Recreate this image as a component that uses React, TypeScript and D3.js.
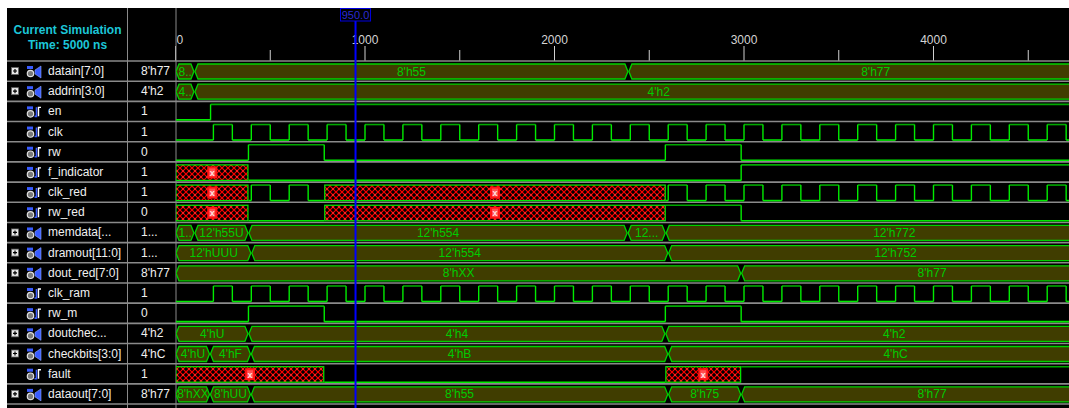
import React from 'react';
import * as d3 from 'd3';

// ---- data (times in ns) ----
const SIM_END = 5000;
const CURSOR_NS = 950;
const MAJOR_TICKS = [0, 1000, 2000, 3000, 4000];
const MINOR_TICKS = [500, 1500, 2500, 3500, 4500];

// rising edges of clk / clk_ram, each high for CLK_HIGH ns
const CLK_RISES = [200, 400, 600, 800, 1000, 1200, 1400, 1600, 1800, 2000, 2200, 2400,
  2600, 2800, 3000, 3200, 3400, 3600, 3800, 4000, 4200, 4400, 4600, 4800];
const CLK_HIGH = 100;

type Change = [number, string];
type BusSeg = [number, string];

const EN: Change[] = [[0, '0'], [185, '1']];
const RW: Change[] = [[0, '0'], [385, '1'], [785, '0'], [2585, '1'], [2985, '0']];
const F_INDICATOR: Change[] = [[0, 'X'], [385, '0'], [2985, '1']];
const CLK_RED_UNKNOWN = [[0, 385], [785, 2587]];
const RW_RED: Change[] = [[0, 'X'], [385, '0'], [785, 'X'], [2587, '1'], [2985, '0']];
const RW_M: Change[] = [[0, '0'], [385, '1'], [785, '0'], [2585, '1'], [2985, '0']];
const FAULT: Change[] = [[0, 'X'], [785, '0'], [2585, 'X'], [2985, '1']];

const DATAIN: BusSeg[] = [[0, '8..'], [100, "8'h55"], [2390, "8'h77"]];
const ADDRIN: BusSeg[] = [[0, '4..'], [100, "4'h2"]];
const MEMDATA: BusSeg[] = [[0, '1..'], [100, "12'h55U"], [385, "12'h554"], [2386, '12...'], [2587, "12'h772"]];
const DRAMOUT: BusSeg[] = [[0, "12'hUUU"], [400, "12'h554"], [2600, "12'h752"]];
const DOUT_RED: BusSeg[] = [[0, "8'hXX"], [2985, "8'h77"]];
const DOUTCHECK: BusSeg[] = [[0, "4'hU"], [385, "4'h4"], [2585, "4'h2"]];
const CHECKBITS: BusSeg[] = [[0, "4'hU"], [182, "4'hF"], [398, "4'hB"], [2600, "4'hC"]];
const DATAOUT: BusSeg[] = [[0, "8'hXX"], [182, "8'hUU"], [398, "8'h55"], [2600, "8'h75"], [2985, "8'h77"]];

const NAMES = ['datain[7:0]', 'addrin[3:0]', 'en', 'clk', 'rw', 'f_indicator', 'clk_red', 'rw_red',
  'memdata[...', 'dramout[11:0]', 'dout_red[7:0]', 'clk_ram', 'rw_m', 'doutchec...', 'checkbits[3:0]',
  'fault', 'dataout[7:0]'];
const END_VALUES = ["8'h77", "4'h2", '1', '1', '0', '1', '1', '0', '1...', '1...', "8'h77", '1', '0',
  "4'h2", "4'hC", '1', "8'h77"];

// ---- helpers ----
function clockWave(from: number, to: number): Change[] {
  const inHigh = CLK_RISES.some(r => from >= r && from < r + CLK_HIGH);
  const out: Change[] = [[from, inHigh ? '1' : '0']];
  CLK_RISES.forEach(r => {
    if (r > from && r < to) out.push([r, '1']);
    const f = r + CLK_HIGH;
    if (f > from && f < to) out.push([f, '0']);
  });
  return out;
}

function clkRed(): Change[] {
  const out: Change[] = [];
  CLK_RED_UNKNOWN.forEach(([a, b], i) => {
    out.push([a, 'X']);
    const next = i + 1 < CLK_RED_UNKNOWN.length ? CLK_RED_UNKNOWN[i + 1][0] : SIM_END;
    out.push(...clockWave(b, next));
  });
  return out;
}

const CLK = clockWave(0, SIM_END);
const CLK_RAM = clockWave(0, SIM_END);

type Row = { kind: 'bit'; data: Change[] } | { kind: 'bus'; data: BusSeg[] };
const ROWS: Row[] = [
  { kind: 'bus', data: DATAIN }, { kind: 'bus', data: ADDRIN }, { kind: 'bit', data: EN },
  { kind: 'bit', data: CLK }, { kind: 'bit', data: RW }, { kind: 'bit', data: F_INDICATOR },
  { kind: 'bit', data: clkRed() }, { kind: 'bit', data: RW_RED }, { kind: 'bus', data: MEMDATA },
  { kind: 'bus', data: DRAMOUT }, { kind: 'bus', data: DOUT_RED }, { kind: 'bit', data: CLK_RAM },
  { kind: 'bit', data: RW_M }, { kind: 'bus', data: DOUTCHECK }, { kind: 'bus', data: CHECKBITS },
  { kind: 'bit', data: FAULT }, { kind: 'bus', data: DATAOUT },
];

const W = 1069;
const H = 408;
const ROW0 = 61;
const ROW_H = 20.18;
const WAVE_X = 176;
const FONT = '"Liberation Sans", Arial, sans-serif';
const HI_COLOR = '#00a800';
const LO_COLOR = '#00ec00';
const BUS_FILL = '#403d00';
const BUS_LINE = '#00d200';
const BUS_TEXT = '#00cc00';
const GRID = '#8a8a8a';

const x = d3.scaleLinear().domain([0, 4000]).range([175.5, 933.5]);

function BitWave({ data, top }: { data: Change[]; top: number }) {
  const yH = top + 3;
  const yL = top + 18.5;
  const segs = data.map((c, i) => [c[0], i + 1 < data.length ? data[i + 1][0] : SIM_END, c[1]] as [number, number, string]);
  const parts: React.ReactNode[] = [];
  segs.forEach(([t0, t1, v], i) => {
    const x0 = x(t0);
    const x1 = x(t1);
    if (v === 'X') {
      const cx = (Math.max(x0, WAVE_X) + Math.min(x1, x(SIM_END))) / 2;
      parts.push(
        <g key={'x' + i}>
          <rect x={x0 + 0.5} y={yH} width={x1 - x0 - 1} height={yL - yH} fill="url(#hatch)" stroke={LO_COLOR} strokeWidth={1.2} />
          <rect x={cx - 5} y={top + 4.5} width={10} height={12} fill="#ff1414" />
          <rect x={cx - 3} y={top + 6.5} width={6} height={8} fill="#ff5050" />
          <text x={cx} y={top + 14} fontSize={9} fontWeight="bold" fill="#ffe0e0" textAnchor="middle" fontFamily={FONT}>x</text>
        </g>
      );
    } else {
      const y = v === '1' ? yH : yL;
      parts.push(<line key={'h' + i} x1={x0} x2={x1} y1={y} y2={y} stroke={v === '1' ? HI_COLOR : LO_COLOR} strokeWidth={1.6} />);
      if (i > 0 && segs[i - 1][2] !== v && segs[i - 1][2] !== 'X') {
        parts.push(<line key={'v' + i} x1={x0} x2={x0} y1={yH} y2={yL} stroke={LO_COLOR} strokeWidth={1.4} />);
      }
    }
  });
  return <g>{parts}</g>;
}

function BusWave({ data, top }: { data: BusSeg[]; top: number }) {
  const yT = top + 3;
  const yB = top + 18;
  const yM = (yT + yB) / 2;
  const h = 3;
  return (
    <g>
      {data.map(([t0, label], i) => {
        const t1 = i + 1 < data.length ? data[i + 1][0] : SIM_END;
        const xa = x(t0) + 0.5;
        const xb = i + 1 < data.length ? x(t1) - 0.5 : x(SIM_END) + 20;
        const pts = [[xa, yM], [xa + h, yT], [xb - h, yT], [xb, yM], [xb - h, yB], [xa + h, yB]];
        const cx = (Math.max(x(t0), WAVE_X) + Math.min(x(t1), x(SIM_END))) / 2;
        return (
          <g key={i}>
            <polygon points={pts.map(p => p.join(',')).join(' ')} fill={BUS_FILL} stroke={BUS_LINE} strokeWidth={1.3} />
            <text x={cx} y={top + 14.5} fill={BUS_TEXT} fontSize={12} textAnchor="middle" fontFamily={FONT}>{label}</text>
          </g>
        );
      })}
    </g>
  );
}

function ExpandBox({ top }: { top: number }) {
  return (
    <g>
      <rect x={11.5} y={top + 6.5} width={7} height={7} fill="#e8e8e8" stroke="#606060" strokeWidth={0.8} />
      <path d={`M13 ${top + 10}H17M15 ${top + 8}V${top + 12}`} stroke="#000" strokeWidth={1.2} />
    </g>
  );
}

function BusIcon({ top }: { top: number }) {
  return (
    <g>
      <rect x={27} y={top + 5} width={6} height={3} fill="#3a5cff" />
      <circle cx={30.5} cy={top + 12.5} r={3.2} fill="#7a7a7a" stroke="#e0e0e0" strokeWidth={1.2} />
      <polygon points={`${41},${top + 5} ${41},${top + 17} ${35},${top + 13} ${35},${top + 9}`} fill="#3a5cff" stroke="#8fa8ff" strokeWidth={0.6} />
    </g>
  );
}

function BitIcon({ top }: { top: number }) {
  return (
    <g>
      <rect x={27} y={top + 5} width={6} height={3} fill="#3a5cff" />
      <circle cx={30.5} cy={top + 12.5} r={3.2} fill="#7a7a7a" stroke="#e0e0e0" strokeWidth={1.2} />
      <path d={`M34.5 ${top + 15}H36.5V${top + 6}`} stroke="#3a5cff" strokeWidth={1.6} fill="none" />
      <path d={`M38.5 ${top + 15}V${top + 6}H41`} stroke="#ffffff" strokeWidth={1.4} fill="none" />
    </g>
  );
}

export default function App() {
  const rowTop = (i: number) => ROW0 + i * ROW_H;
  const cursorX = x(CURSOR_NS);
  return (
    <svg width={W} height={H} style={{ position: 'absolute', left: 0, top: 0, display: 'block' }}>
      <defs>
        <pattern id="hatch" width={6} height={6} patternUnits="userSpaceOnUse">
          <rect width={6} height={6} fill="#000" />
          <path d="M0 0L6 6M6 0L0 6" stroke="#ff0000" strokeWidth={1.2} />
          <rect x={2.2} y={2.2} width={1.6} height={1.6} fill="#ff3030" />
        </pattern>
        <clipPath id="waveClip">
          <rect x={WAVE_X} y={ROW0} width={W - WAVE_X} height={H - ROW0} />
        </clipPath>
      </defs>
      <rect width={W} height={H} fill="#fff" />
      <rect x={7} y={8} width={W - 7} height={H - 8} fill="#000" />

      {/* header */}
      <text x={67.5} y={34} fill="#1cc6d8" fontSize={12} fontWeight="bold" textAnchor="middle" fontFamily={FONT}>Current Simulation</text>
      <text x={67.5} y={48.5} fill="#1cc6d8" fontSize={12} fontWeight="bold" textAnchor="middle" fontFamily={FONT}>Time: 5000 ns</text>
      {MAJOR_TICKS.map(t => (
        <g key={t}>
          <line x1={x(t)} x2={x(t)} y1={46} y2={61} stroke="#d0d0d0" strokeWidth={1} />
          <text x={t === 0 ? x(t) + 1 : x(t)} y={44} fill="#d4d4d4" fontSize={12} textAnchor={t === 0 ? 'start' : 'middle'} fontFamily={FONT}>{t}</text>
        </g>
      ))}
      {MINOR_TICKS.map(t => (
        <line key={t} x1={x(t)} x2={x(t)} y1={50} y2={61} stroke="#d0d0d0" strokeWidth={1} />
      ))}

      {/* row separators */}
      {d3.range(NAMES.length + 1).map(i => (
        <line key={i} x1={7} x2={W} y1={rowTop(i)} y2={rowTop(i)} stroke={GRID} strokeWidth={1.6} />
      ))}
      <line x1={127.5} x2={127.5} y1={8} y2={H} stroke={GRID} strokeWidth={1} />
      <line x1={WAVE_X} x2={WAVE_X} y1={8} y2={H} stroke={GRID} strokeWidth={1} />

      {/* names and values */}
      {NAMES.map((name, i) => {
        const top = rowTop(i);
        const isBus = ROWS[i].kind === 'bus';
        return (
          <g key={name}>
            {isBus && <ExpandBox top={top} />}
            {isBus ? <BusIcon top={top} /> : <BitIcon top={top} />}
            <text x={48} y={top + 14} fill="#f0f0f0" fontSize={12} fontFamily={FONT}>{name}</text>
            <text x={141} y={top + 14} fill="#f0f0f0" fontSize={12} fontFamily={FONT}>{END_VALUES[i]}</text>
          </g>
        );
      })}

      {/* waveforms */}
      <g clipPath="url(#waveClip)">
        {ROWS.map((row, i) =>
          row.kind === 'bus'
            ? <BusWave key={i} data={row.data} top={rowTop(i)} />
            : <BitWave key={i} data={row.data} top={rowTop(i)} />
        )}
      </g>

      {/* cursor */}
      <line x1={cursorX} x2={cursorX} y1={21} y2={H} stroke="#0000ff" strokeWidth={2} />
      <rect x={cursorX - 15} y={8.5} width={30} height={12.5} fill="#000" stroke="#0000e0" strokeWidth={1} />
      <text x={cursorX} y={19} fill="#2a2ad0" fontSize={11} textAnchor="middle" fontFamily={FONT}>{CURSOR_NS.toFixed(1)}</text>
    </svg>
  );
}
